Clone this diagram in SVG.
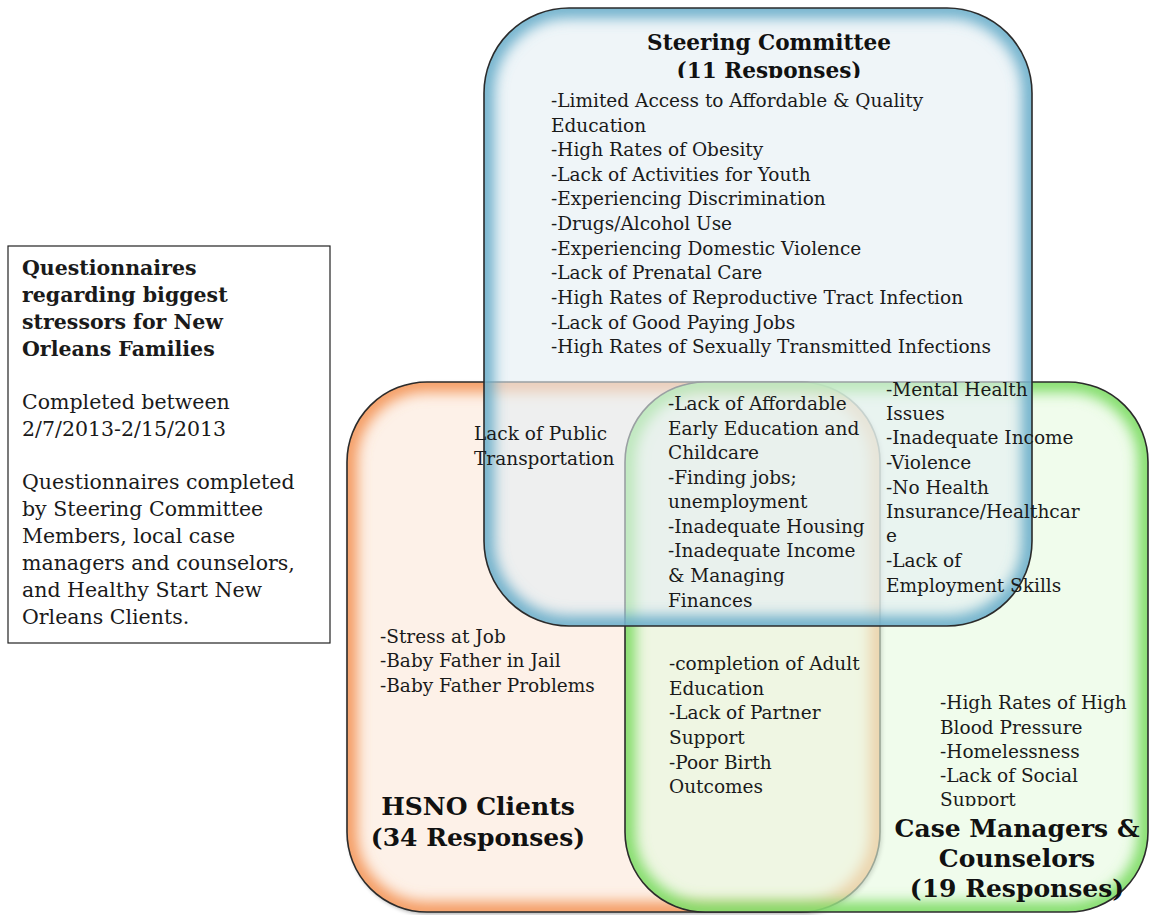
<svg xmlns="http://www.w3.org/2000/svg" width="1149" height="915" viewBox="0 0 1149 915">
<defs>
<style>
.t{font-family:"DejaVu Serif","Liberation Serif",serif;font-size:18.5px;fill:#1a1a1a}
.b{font-family:"DejaVu Serif","Liberation Serif",serif;font-weight:bold;fill:#111}
.info{font-family:"DejaVu Serif","Liberation Serif",serif;font-size:20.5px;fill:#1a1a1a}
.edge{fill:none;stroke:#2b2b2b;stroke-width:1.6}
</style>
<filter id="blur" x="-10%" y="-10%" width="120%" height="120%"><feGaussianBlur stdDeviation="7"/></filter>
<filter id="shadow" x="-5%" y="-5%" width="115%" height="115%"><feGaussianBlur in="SourceAlpha" stdDeviation="2"/><feOffset dx="2" dy="2"/><feComponentTransfer><feFuncA type="linear" slope="0.35"/></feComponentTransfer><feMerge><feMergeNode/><feMergeNode in="SourceGraphic"/></feMerge></filter>
<clipPath id="cBlue"><rect x="484" y="8" width="548" height="618" rx="85"/></clipPath>
<clipPath id="cOrange"><rect x="347" y="382" width="533" height="530" rx="80"/></clipPath>
<clipPath id="cGreen"><rect x="625" y="382" width="523" height="530" rx="80"/></clipPath>
<clipPath id="cTitle"><rect x="500" y="20" width="500" height="58"/></clipPath>
<clipPath id="cMental"><rect x="880" y="381" width="200" height="220"/></clipPath>
<clipPath id="cSupport"><rect x="930" y="690" width="210" height="116"/></clipPath>
</defs>
<rect width="1149" height="915" fill="#ffffff"/>

<g id="hsno">
<rect x="347" y="382" width="533" height="530" rx="80" fill="#fdf1e8" filter="url(#shadow)"/>
<rect x="347" y="382" width="533" height="530" rx="80" fill="none" stroke="#f49a5e" stroke-width="20" clip-path="url(#cOrange)" filter="url(#blur)"/>
<rect class="edge" x="347" y="382" width="533" height="530" rx="80"/>
</g>

<g id="casemgr">
<rect x="625" y="382" width="523" height="530" rx="80" fill="#e6fadf" fill-opacity="0.6"/>
<rect x="625" y="382" width="523" height="530" rx="80" fill="none" stroke="#74d95a" stroke-width="20" stroke-opacity="0.9" clip-path="url(#cGreen)" filter="url(#blur)"/>
<rect class="edge" x="625" y="382" width="523" height="530" rx="80"/>
</g>

<g id="steering">
<rect x="484" y="8" width="548" height="618" rx="85" fill="#e4eef3" fill-opacity="0.6"/>
<rect x="484" y="8" width="548" height="618" rx="85" fill="none" stroke="#5fa8c6" stroke-width="20" stroke-opacity="0.9" clip-path="url(#cBlue)" filter="url(#blur)"/>
<rect class="edge" x="484" y="8" width="548" height="618" rx="85"/>
</g>

<g id="connectors"></g>

<g id="steering-text">
<text class="b" font-size="21.6" text-anchor="middle" x="769" y="50">Steering Committee</text>
<text class="b" font-size="21.6" text-anchor="middle" x="769" y="78" clip-path="url(#cTitle)">(11 Responses)</text>
<text class="t" x="551" y="107">-Limited Access to Affordable &amp; Quality</text>
<text class="t" x="551" y="132">Education</text>
<text class="t" x="551" y="156">-High Rates of Obesity</text>
<text class="t" x="551" y="181">-Lack of Activities for Youth</text>
<text class="t" x="551" y="205">-Experiencing Discrimination</text>
<text class="t" x="551" y="230">-Drugs/Alcohol Use</text>
<text class="t" x="551" y="255">-Experiencing Domestic Violence</text>
<text class="t" x="551" y="279">-Lack of Prenatal Care</text>
<text class="t" x="551" y="304">-High Rates of Reproductive Tract Infection</text>
<text class="t" x="551" y="329">-Lack of Good Paying Jobs</text>
<text class="t" x="551" y="353">-High Rates of Sexually Transmitted Infections</text>
</g>

<g id="overlap-text">
<text class="t" x="474" y="440">Lack of Public</text>
<text class="t" x="474" y="465">Transportation</text>
<text class="t" x="668" y="410">-Lack of Affordable</text>
<text class="t" x="668" y="435">Early Education and</text>
<text class="t" x="668" y="459">Childcare</text>
<text class="t" x="668" y="484">-Finding jobs;</text>
<text class="t" x="668" y="508">unemployment</text>
<text class="t" x="668" y="533">-Inadequate Housing</text>
<text class="t" x="668" y="557">-Inadequate Income</text>
<text class="t" x="668" y="582">&amp; Managing</text>
<text class="t" x="668" y="607">Finances</text>
<g clip-path="url(#cMental)">
<text class="t" x="886" y="396">-Mental Health</text>
</g>
<text class="t" x="886" y="420">Issues</text>
<text class="t" x="886" y="444">-Inadequate Income</text>
<text class="t" x="886" y="469">-Violence</text>
<text class="t" x="886" y="494">-No Health</text>
<text class="t" x="886" y="518">Insurance/Healthcar</text>
<text class="t" x="886" y="542">e</text>
<text class="t" x="886" y="567">-Lack of</text>
<text class="t" x="886" y="592">Employment Skills</text>
<text class="t" x="669" y="670">-completion of Adult</text>
<text class="t" x="669" y="695">Education</text>
<text class="t" x="669" y="719">-Lack of Partner</text>
<text class="t" x="669" y="744">Support</text>
<text class="t" x="669" y="769">-Poor Birth</text>
<text class="t" x="669" y="793">Outcomes</text>
</g>

<g id="hsno-text">
<text class="t" x="380" y="643">-Stress at Job</text>
<text class="t" x="380" y="667">-Baby Father in Jail</text>
<text class="t" x="380" y="692">-Baby Father Problems</text>
<text class="b" font-size="25" text-anchor="middle" x="478" y="815">HSNO Clients</text>
<text class="b" font-size="25" text-anchor="middle" x="478" y="846">(34 Responses)</text>
</g>

<g id="casemgr-text">
<text class="t" x="940" y="709">-High Rates of High</text>
<text class="t" x="940" y="734">Blood Pressure</text>
<text class="t" x="940" y="758">-Homelessness</text>
<text class="t" x="940" y="782">-Lack of Social</text>
<text class="t" x="940" y="806" clip-path="url(#cSupport)">Support</text>
<text class="b" font-size="25" text-anchor="middle" x="1017" y="837">Case Managers &amp;</text>
<text class="b" font-size="25" text-anchor="middle" x="1017" y="867">Counselors</text>
<text class="b" font-size="25" text-anchor="middle" x="1017" y="897">(19 Responses)</text>
</g>

<g id="info">
<rect x="8" y="246" width="322" height="397" fill="#ffffff" stroke="#222" stroke-width="1.2"/>
<text class="info" font-weight="bold" font-size="21" x="22" y="275">Questionnaires</text>
<text class="info" font-weight="bold" font-size="21" x="22" y="302">regarding biggest</text>
<text class="info" font-weight="bold" font-size="21" x="22" y="329">stressors for New</text>
<text class="info" font-weight="bold" font-size="21" x="22" y="356">Orleans Families</text>
<text class="info" x="22" y="409">Completed between</text>
<text class="info" x="22" y="436">2/7/2013-2/15/2013</text>
<text class="info" x="22" y="489">Questionnaires completed</text>
<text class="info" x="22" y="516">by Steering Committee</text>
<text class="info" x="22" y="543">Members, local case</text>
<text class="info" x="22" y="570">managers and counselors,</text>
<text class="info" x="22" y="597">and Healthy Start New</text>
<text class="info" x="22" y="624">Orleans Clients.</text>
</g>
</svg>
